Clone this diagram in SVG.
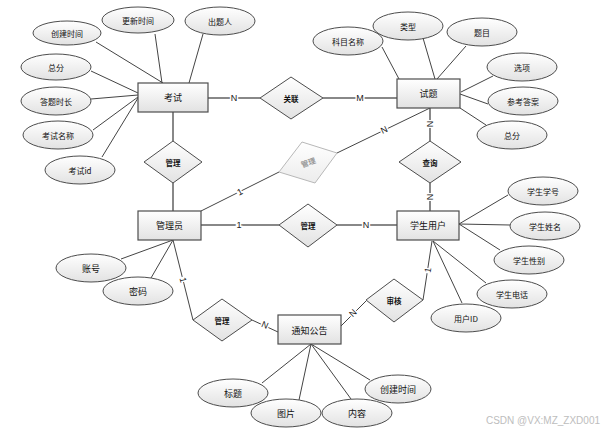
<svg xmlns="http://www.w3.org/2000/svg" width="610" height="435" viewBox="0 0 610 435">
<defs>
<linearGradient id="g" x1="0" y1="0" x2="0" y2="1"><stop offset="0" stop-color="#ffffff"/><stop offset="1" stop-color="#e2e2e2"/></linearGradient>
<linearGradient id="gf" x1="0" y1="0" x2="0" y2="1"><stop offset="0" stop-color="#ffffff"/><stop offset="1" stop-color="#ececec"/></linearGradient>
<style>
.e{fill:url(#g);stroke:#4d4d4d;stroke-width:1}
.r{fill:url(#g);stroke:#4d4d4d;stroke-width:1.2}
.d{fill:url(#g);stroke:#4d4d4d;stroke-width:1}
.t{font-family:"Noto Sans CJK SC","Liberation Sans",sans-serif;font-size:8px;fill:#111;text-anchor:middle;dominant-baseline:central}
.n{font-size:9px}
.s{font-size:7.5px;font-weight:bold}
.l{stroke:#444;stroke-width:1;fill:none}
.th{stroke:#888;stroke-width:2;fill:none}
.lb{font-family:"Liberation Sans",sans-serif;font-size:9px;fill:#222;text-anchor:middle;dominant-baseline:central;paint-order:stroke;stroke:#fff;stroke-width:3px}
</style>
</defs>
<rect width="610" height="435" fill="#fff"/>
<g id="connectors">
<line class="l" x1="96" y1="42" x2="163" y2="83"/>
<line class="l" x1="155" y1="34" x2="162" y2="83"/>
<line class="l" x1="203" y1="34" x2="189" y2="83"/>
<line class="l" x1="91" y1="71" x2="138" y2="93"/>
<line class="l" x1="91" y1="99" x2="138" y2="95"/>
<line class="l" x1="93" y1="130" x2="138" y2="97"/>
<line class="l" x1="102" y1="157" x2="138" y2="98"/>
<line class="th" x1="173" y1="112" x2="173" y2="141"/>
<line class="th" x1="173" y1="183" x2="173" y2="211"/>
<line class="th" x1="208" y1="98" x2="260" y2="98"/>
<line class="th" x1="323" y1="98" x2="397" y2="98"/>
<line class="l" x1="382" y1="47" x2="399" y2="79"/>
<line class="l" x1="423" y1="38" x2="435" y2="79"/>
<line class="l" x1="466" y1="46" x2="437" y2="79"/>
<line class="l" x1="493" y1="76" x2="461" y2="92"/>
<line class="l" x1="488" y1="104" x2="460" y2="94"/>
<line class="l" x1="486" y1="125" x2="460" y2="108"/>
<line class="th" x1="430" y1="108" x2="430" y2="141"/>
<line class="th" x1="430" y1="183" x2="430" y2="211"/>
<line class="l" x1="173" y1="240" x2="121" y2="259"/>
<line class="l" x1="173" y1="240" x2="151" y2="278"/>
<line class="l" x1="173" y1="240" x2="193" y2="320"/>
<line class="l" x1="201" y1="211" x2="279" y2="172"/>
<line class="l" x1="337" y1="153" x2="430" y2="108"/>
<line class="th" x1="201" y1="225" x2="279" y2="225"/>
<line class="th" x1="337" y1="225" x2="397" y2="225"/>
<line class="l" x1="459" y1="224" x2="508" y2="195"/>
<line class="l" x1="459" y1="224" x2="510" y2="225"/>
<line class="l" x1="459" y1="224" x2="500" y2="250"/>
<line class="l" x1="433" y1="241" x2="486" y2="283"/>
<line class="l" x1="433" y1="241" x2="462" y2="303"/>
<line class="l" x1="432" y1="241" x2="423" y2="300"/>
<line class="l" x1="366" y1="301" x2="341" y2="326"/>
<line class="l" x1="252" y1="320" x2="278" y2="332"/>
<line class="l" x1="311" y1="344" x2="262" y2="383"/>
<line class="l" x1="311" y1="344" x2="299" y2="400"/>
<line class="l" x1="311" y1="344" x2="351" y2="399"/>
<line class="l" x1="311" y1="344" x2="370" y2="380"/>
<text class="lb" x="234" y="98">N</text>
<text class="lb" x="360" y="98">M</text>
<text class="lb" x="240" y="192" transform="rotate(-27 240 192)">1</text>
<text class="lb" x="384" y="130" transform="rotate(-26 384 130)">N</text>
<text class="lb" x="430" y="124" transform="rotate(90 430 124)">N</text>
<text class="lb" x="430" y="197" transform="rotate(90 430 197)">N</text>
<text class="lb" x="239" y="225">1</text>
<text class="lb" x="366" y="225">N</text>
<text class="lb" x="183" y="280" transform="rotate(76 183 280)">1</text>
<text class="lb" x="265" y="325" transform="rotate(23 265 325)">N</text>
<text class="lb" x="353" y="313" transform="rotate(-45 353 313)">N</text>
<text class="lb" x="428" y="270" transform="rotate(-81 428 270)">1</text>
</g>
<g id="kaoshi"><rect class="r" x="138" y="83" width="70" height="29"/><text class="t n" x="173" y="97.5">考试</text></g>
<g id="a-chuangjian1"><ellipse class="e" cx="67" cy="33" rx="34" ry="12"/><text class="t" x="67" y="33">创建时间</text></g>
<g id="a-gengxin"><ellipse class="e" cx="138" cy="20" rx="36" ry="13"/><text class="t" x="138" y="20">更新时间</text></g>
<g id="a-chutiren"><ellipse class="e" cx="220" cy="21" rx="35" ry="14"/><text class="t" x="220" y="21">出题人</text></g>
<g id="a-zongfen1"><ellipse class="e" cx="56" cy="67" rx="35" ry="13"/><text class="t" x="56" y="67">总分</text></g>
<g id="a-datishichang"><ellipse class="e" cx="56" cy="101" rx="35" ry="14"/><text class="t" x="56" y="101">答题时长</text></g>
<g id="a-kaoshimingcheng"><ellipse class="e" cx="58" cy="135" rx="35" ry="14"/><text class="t" x="58" y="135">考试名称</text></g>
<g id="a-kaoshiid"><ellipse class="e" cx="80" cy="170" rx="35" ry="14"/><text class="t" x="80" y="170">考试id</text></g>
<g id="r-guanli1"><polygon class="d" points="173,141 202,162 173,183 144,162"/><text class="t s" x="173" y="162">管理</text></g>
<g id="r-guanlian"><polygon class="d" points="291,77 323,98 291,119 260,98"/><text class="t s" x="291" y="98">关联</text></g>
<g id="shiti"><rect class="r" x="397" y="79" width="63" height="29"/><text class="t n" x="428.5" y="93.5">试题</text></g>
<g id="a-kemu"><ellipse class="e" cx="348" cy="41" rx="35" ry="14"/><text class="t" x="348" y="41">科目名称</text></g>
<g id="a-leixing"><ellipse class="e" cx="408" cy="26" rx="35" ry="14"/><text class="t" x="408" y="26">类型</text></g>
<g id="a-timu"><ellipse class="e" cx="482" cy="32" rx="35" ry="14"/><text class="t" x="482" y="32">题目</text></g>
<g id="a-xuanxiang"><ellipse class="e" cx="522" cy="67" rx="35" ry="14"/><text class="t" x="522" y="67">选项</text></g>
<g id="a-cankao"><ellipse class="e" cx="523" cy="101" rx="35" ry="14"/><text class="t" x="523" y="101">参考答案</text></g>
<g id="a-zongfen2"><ellipse class="e" cx="512" cy="135" rx="35" ry="14"/><text class="t" x="512" y="135">总分</text></g>
<g id="r-chaxun"><polygon class="d" points="430,141 461,162 430,183 399,162"/><text class="t s" x="430" y="162">查询</text></g>
<g id="r-guanli-faded"><polygon points="302,142 337,153 315,183 279,172" fill="url(#gf)" stroke="#b8b8b8" stroke-width="1"/><text class="t s" x="308" y="162" style="fill:#9a9a9a" transform="rotate(-20 308 162)">管理</text></g>
<g id="guanliyuan"><rect class="r" x="138" y="211" width="63" height="29"/><text class="t n" x="169.5" y="225.5">管理员</text></g>
<g id="a-zhanghao"><ellipse class="e" cx="91" cy="268" rx="35" ry="14"/><text class="t n" x="91" y="268">账号</text></g>
<g id="a-mima"><ellipse class="e" cx="138" cy="291" rx="35" ry="14"/><text class="t n" x="138" y="291">密码</text></g>
<g id="r-guanli2"><polygon class="d" points="308,204 337,225 308,247 279,225"/><text class="t s" x="308" y="225">管理</text></g>
<g id="xueshengyonghu"><rect class="r" x="397" y="211" width="62" height="29"/><text class="t n" x="428" y="225.5">学生用户</text></g>
<g id="a-xuehao"><ellipse class="e" cx="543" cy="191" rx="35" ry="14"/><text class="t" x="543" y="191">学生学号</text></g>
<g id="a-xingming"><ellipse class="e" cx="545" cy="226" rx="35" ry="14"/><text class="t" x="545" y="226">学生姓名</text></g>
<g id="a-xingbie"><ellipse class="e" cx="529" cy="260" rx="35" ry="14"/><text class="t" x="529" y="260">学生性别</text></g>
<g id="a-dianhua"><ellipse class="e" cx="512" cy="294" rx="35" ry="14"/><text class="t" x="512" y="294">学生电话</text></g>
<g id="a-yonghuid"><ellipse class="e" cx="466" cy="318" rx="35" ry="14"/><text class="t" x="466" y="318">用户ID</text></g>
<g id="r-shenhe"><polygon class="d" points="394,279 423,300 394,322 366,300"/><text class="t s" x="394" y="300">审核</text></g>
<g id="r-guanli3"><polygon class="d" points="222,299 252,320 222,341 193,320"/><text class="t s" x="222" y="320">管理</text></g>
<g id="tongzhigonggao"><rect class="r" x="278" y="315" width="63" height="29"/><text class="t n" x="309.5" y="330">通知公告</text></g>
<g id="a-biaoti"><ellipse class="e" cx="233" cy="393" rx="35" ry="14"/><text class="t n" x="233" y="393">标题</text></g>
<g id="a-tupian"><ellipse class="e" cx="286" cy="413" rx="35" ry="14"/><text class="t n" x="286" y="413">图片</text></g>
<g id="a-neirong"><ellipse class="e" cx="357" cy="413" rx="35" ry="14"/><text class="t n" x="357" y="413">内容</text></g>
<g id="a-chuangjian2"><ellipse class="e" cx="398" cy="389" rx="33" ry="14"/><text class="t n" x="398" y="389">创建时间</text></g>
<text x="543" y="424" font-family="'Liberation Sans',sans-serif" font-size="10" fill="#bdbdbd" text-anchor="middle">CSDN @VX:MZ_ZXD001</text>
</svg>
